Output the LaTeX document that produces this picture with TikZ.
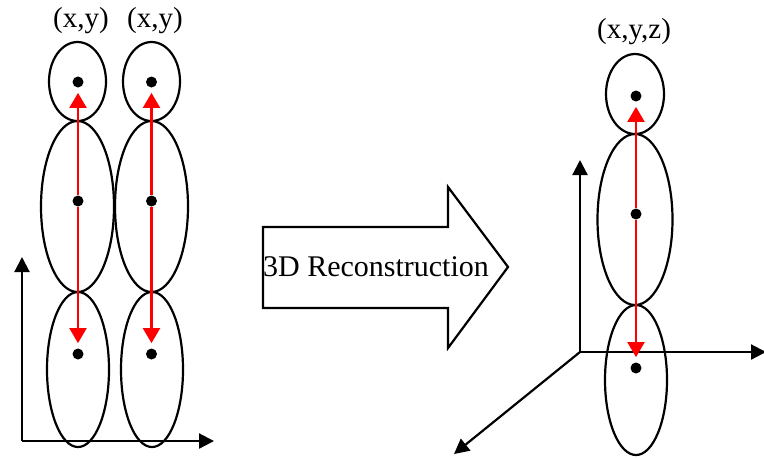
\documentclass[tikz,border=0pt]{standalone}
\usepackage{fontspec}
\setmainfont{Liberation Serif}
\usetikzlibrary{arrows.meta,shapes.geometric}
\begin{document}
\begin{tikzpicture}[x=0.5pt,y=-0.5pt,
  part/.style={draw=black,line width=1.1pt,shape=ellipse,inner sep=0pt},
  joint/.style={fill=black,circle,inner sep=0pt,minimum size=5.5pt},
  bone/.style={draw=red,line width=1.1pt,-{Triangle[length=7.5pt,width=8.5pt]},shorten >=2.5pt},
  axis/.style={draw=black,line width=1.1pt,-{Triangle[length=7.5pt,width=7.5pt]}},
  lbl/.style={font=\fontsize{14.5pt}{16pt}\selectfont,inner sep=0pt}]
\useasboundingbox (0,0) rectangle (764,457);
% ---- left axes
\coordinate (lo) at (22,441);
\coordinate (ly) at (22,257);
\coordinate (lx) at (214,441);
\draw[axis] (lo) -- (ly);
\draw[axis] (lo) -- (lx);
% ---- column 1
\node[part,minimum width=28.5pt,minimum height=39.5pt] (a1) at (77.5,81.5) {};
\node[part,minimum width=36.5pt,minimum height=85.5pt] (a2) at (77.5,206.5) {};
\node[part,minimum width=31pt,minimum height=77.5pt] (a3) at (78,369.5) {};
\node[joint] (ja1) at (78,82) {};
\node[joint] (ja2) at (78,201) {};
\node[joint] (ja3) at (78,354) {};
\draw[bone] (ja2) -- (ja1);
\draw[bone] (ja2) -- (ja3);
\node[lbl] (la) at (81,21) {(x,y)};
% ---- column 2
\node[part,minimum width=28.5pt,minimum height=39.5pt] (b1) at (151.5,81.5) {};
\node[part,minimum width=36.5pt,minimum height=85.5pt] (b2) at (151.5,206.5) {};
\node[part,minimum width=31pt,minimum height=77.5pt] (b3) at (152,369.5) {};
\node[joint] (jb1) at (151.5,82) {};
\node[joint] (jb2) at (151.5,201) {};
\node[joint] (jb3) at (151.5,354) {};
\draw[bone] (jb2) -- (jb1);
\draw[bone] (jb2) -- (jb3);
\node[lbl] (lb) at (155,21) {(x,y)};
% ---- big arrow
\draw[line width=1.1pt,fill=white] (263,227) -- (448,227) -- (448,187) -- (508,267)
  -- (448,348) -- (448,308) -- (263,308) -- cycle;
\node[lbl,font=\fontsize{15pt}{17pt}\selectfont] (rec) at (376,267) {3D Reconstruction};
% ---- right axes
\coordinate (ro) at (580,352);
\coordinate (ry) at (580,160);
\coordinate (rx) at (766,352);
\coordinate (rz) at (454,454);
\draw[axis] (ro) -- (ry);
\draw[axis] (ro) -- (rz);
% ---- right figure
\node[part,minimum width=29pt,minimum height=40pt] (c1) at (635,94) {};
\node[part,minimum width=37.5pt,minimum height=85.5pt] (c2) at (635,219.5) {};
\node[part,minimum width=31pt,minimum height=75pt] (c3) at (636,380) {};
\draw[axis] (ro) -- (rx);
\node[joint] (jc1) at (636,96) {};
\node[joint] (jc2) at (636,214) {};
\node[joint] (jc3) at (636,368) {};
\draw[bone] (jc2) -- (jc1);
\draw[bone] (jc2) -- (jc3);
\node[lbl] (lc) at (634,32) {(x,y,z)};
\end{tikzpicture}
\end{document}
